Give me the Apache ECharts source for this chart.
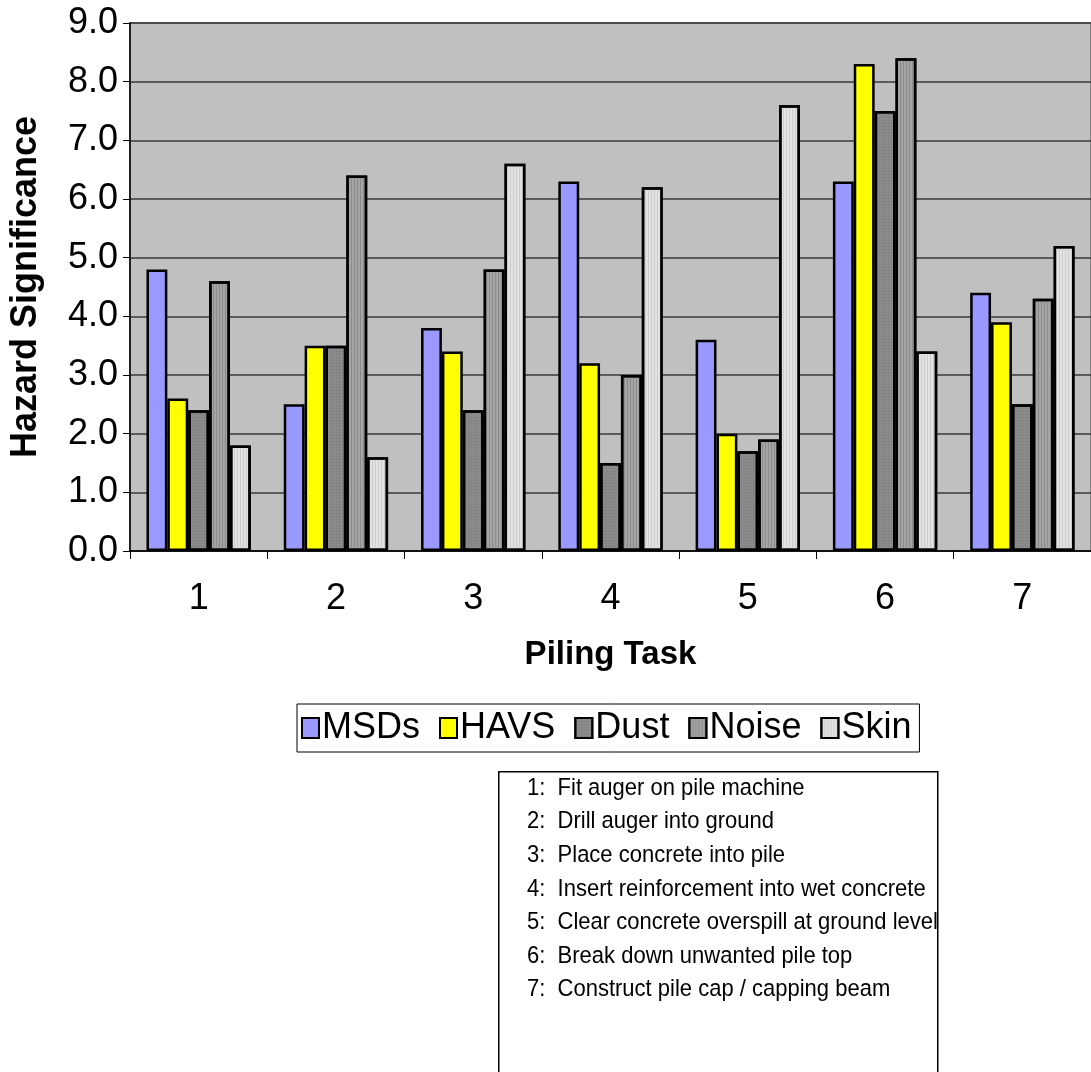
<!DOCTYPE html>
<html>
<head>
<meta charset="utf-8">
<script src="https://cdn.jsdelivr.net/npm/echarts@6/dist/echarts.min.js"></script>
<style>
html,body{margin:0;padding:0;background:#fff;}
#chart{width:1091px;height:1072px;}
</style>
</head>
<body>
<div id="chart"></div>
<script>
var categories = ['1','2','3','4','5','6','7'];
var seriesNames = ['MSDs','HAVS','Dust','Noise','Skin'];
var msds  = [4.8, 2.5, 3.8, 6.3, 3.6, 6.3, 4.4];
var havs  = [2.6, 3.5, 3.4, 3.2, 2.0, 8.3, 3.9];
var dust  = [2.4, 3.5, 2.4, 1.5, 1.7, 7.5, 2.5];
var noise = [4.6, 6.4, 4.8, 3.0, 1.9, 8.4, 4.3];
var skin  = [1.8, 1.6, 6.6, 6.2, 7.6, 3.4, 5.2];
var taskLines = [
  '1:  Fit auger on pile machine',
  '2:  Drill auger into ground',
  '3:  Place concrete into pile',
  '4:  Insert reinforcement into wet concrete',
  '5:  Clear concrete overspill at ground level',
  '6:  Break down unwanted pile top',
  '7:  Construct pile cap / capping beam'
];

var FONT = '"Liberation Sans", Arial, sans-serif';
var fills = ['#9999FF','#FFFF00','#8a8a8a','#a4a4a4','#e2e2e2'];
var decals = [
  null,
  null,
  {symbol:'rect', symbolSize:1, dashArrayX:[1,2], dashArrayY:[1,2], color:'rgba(110,110,110,0.6)'},
  {symbol:'rect', symbolSize:1, dashArrayX:[1,2], dashArrayY:[4,0], color:'rgba(130,130,130,0.7)'},
  {symbol:'rect', symbolSize:1, dashArrayX:[1,2], dashArrayY:[4,0], color:'rgba(200,200,200,0.8)'}
];
var dataSets = [msds, havs, dust, noise, skin];

var series = seriesNames.map(function(n, i){
  var st = {color: fills[i], borderColor:'#000', borderWidth:2.5};
  if (decals[i]) st.decal = decals[i];
  return {
    name: n, type:'bar', data: dataSets[i],
    barGap:'0%', barCategoryGap:'24%',
    itemStyle: st,
    emphasis:{disabled:true}
  };
});

var graphics = [{
  type:'rect', left:498, top:771,
  shape:{width:439, height:320},
  style:{fill:'#fff', stroke:'#000', lineWidth:1.5}
}];
taskLines.forEach(function(t, i){
  graphics.push({
    type:'text', x:527, y: 788 + i*33.6,
    scaleY:1.12,
    style:{text:t, font:'22px ' + FONT, fill:'#000', verticalAlign:'middle', align:'left'}
  });
});

var chart = echarts.init(document.getElementById('chart'), null, {renderer:'canvas'});
chart.setOption({
  animation:false,
  backgroundColor:'#fff',
  grid:{left:129, top:23, right:-6, bottom:521, show:true, backgroundColor:'#c0c0c0', borderColor:'#808080', borderWidth:2},
  legend:{
    data: seriesNames, left:297, top:704, icon:'rect',
    padding:[6,8,6,4], itemGap:19, itemWidth:17, itemHeight:20,
    borderColor:'#000', borderWidth:1, backgroundColor:'#fff',
    textStyle:{fontFamily:FONT, fontSize:36, color:'#000', padding:[0,0,0,-2]},
    itemStyle:{borderColor:'#000', borderWidth:2}
  },
  xAxis:{
    type:'category', data:categories,
    name:'Piling Task', nameLocation:'middle', nameGap:87,
    nameTextStyle:{fontFamily:FONT, fontSize:33, fontWeight:'bold', color:'#000'},
    axisLine:{lineStyle:{color:'#000', width:1.5}},
    axisTick:{show:true, inside:false, length:8, alignWithLabel:false, lineStyle:{color:'#000'}},
    axisLabel:{fontFamily:FONT, fontSize:36, color:'#000', margin:30},
    splitLine:{show:false}
  },
  yAxis:{
    type:'value', min:0, max:9, interval:1,
    name:'Hazard Significance', nameLocation:'middle', nameGap:86,
    nameTextStyle:{fontFamily:FONT, fontSize:36, fontWeight:'bold', color:'#000'},
    axisLine:{show:true, lineStyle:{color:'#000', width:1.5}},
    axisTick:{show:true, inside:false, length:7, lineStyle:{color:'#000'}},
    axisLabel:{fontFamily:FONT, fontSize:36, color:'#000', margin:12,
      formatter:function(v){return v.toFixed(1);}},
    splitLine:{show:true, lineStyle:{color:'#3a3a3a', width:1.5}}
  },
  series: series,
  graphic: graphics
});
</script>
</body>
</html>
